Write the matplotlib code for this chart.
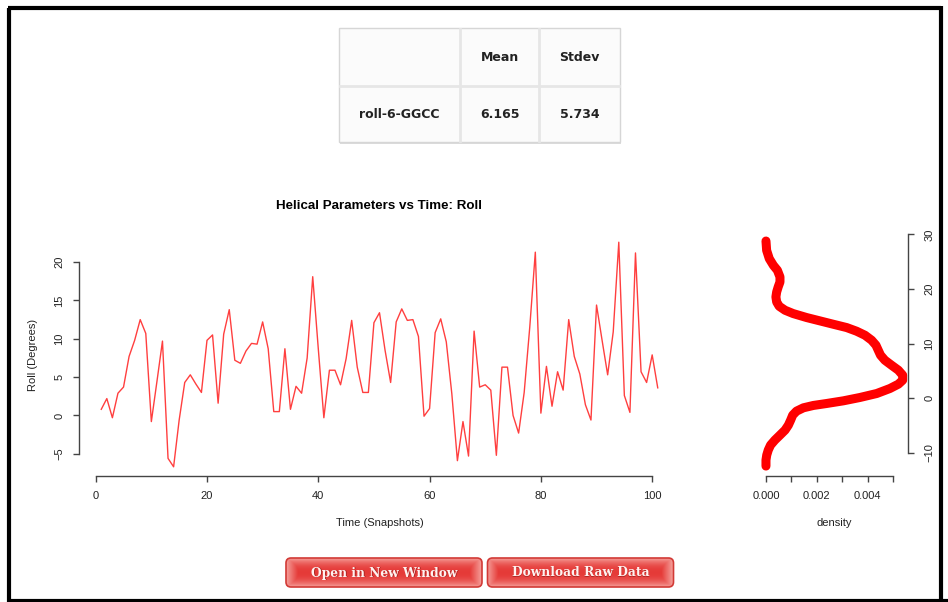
import numpy as np
import matplotlib
matplotlib.use("Agg")
import matplotlib.pyplot as plt
from matplotlib.patches import FancyBboxPatch, Rectangle

# ---------------- data ----------------
snapshots = list(range(1, 102))
roll = [0.8, 2.2, -0.3, 2.9, 3.7, 7.7, 9.8, 12.5, 10.7, -0.8,
        4.4, 9.7, -5.6, -6.7, -0.6, 4.3, 5.3, 4.1, 3.0, 9.8,
        10.5, 1.6, 10.6, 13.8, 7.2, 6.8, 8.4, 9.4, 9.3, 12.2,
        8.7, 0.5, 0.5, 8.7, 0.8, 3.8, 2.9, 7.5, 18.1, 8.7,
        -0.3, 5.9, 5.9, 4.0, 7.4, 12.4, 6.3, 3.0, 3.0, 12.1,
        13.4, 8.5, 4.3, 12.2, 13.9, 12.4, 12.5, 10.3, -0.1, 0.9,
        10.8, 12.6, 9.6, 2.8, -5.9, -0.8, -5.3, 11.0, 3.7, 4.0,
        3.3, -5.2, 6.3, 6.3, 0.0, -2.3, 3.0, 11.5, 21.3, 0.3,
        6.4, 1.2, 5.7, 3.3, 12.5, 7.7, 5.4, 1.4, -0.6, 14.4,
        9.8, 5.3, 10.9, 22.6, 2.6, 0.4, 21.2, 5.7, 4.3, 7.9, 3.6]

dens_roll = [28.78, 27.07, 25.55, 24.33, 23.41, 22.20, 21.28, 20.37, 19.45, 18.54,
             17.62, 16.83, 16.10, 15.49, 14.76, 14.15, 13.54, 12.93, 12.26, 11.52,
             10.61, 9.70, 8.78, 7.87, 6.95, 6.04, 5.12, 4.21, 3.29, 2.56,
             1.77, 0.85, 0.12, -0.49, -0.98, -1.34, -1.77, -2.38, -3.11, -4.02,
             -4.94, -5.85, -6.77, -7.68, -8.60, -9.51, -10.43, -11.34, -12.44]
dens_val = [0.0, 0.000026, 0.00013, 0.00029, 0.00045, 0.00055, 0.00055, 0.00048, 0.00042, 0.00039,
            0.00042, 0.00052, 0.00075, 0.00107, 0.00160, 0.00212, 0.00264, 0.00317, 0.00356, 0.00389,
            0.00415, 0.00432, 0.00441, 0.00450, 0.00467, 0.00493, 0.00520, 0.00537, 0.00537, 0.00520,
            0.00487, 0.00435, 0.00369, 0.00304, 0.00238, 0.00186, 0.00147, 0.00120, 0.00105, 0.00097,
            0.00088, 0.00075, 0.00055, 0.00035, 0.00018, 0.00009, 0.00003, 0.0, 0.0]

table_cols = ["", "Mean", "Stdev"]
table_row = ["roll-6-GGCC", "6.165", "5.734"]

main_xticks = [0, 20, 40, 60, 80, 100]
main_yticks = [-5, 0, 5, 10, 15, 20]
dens_xticks = [0.000, 0.001, 0.002, 0.003, 0.004, 0.005]
dens_xlabels = ["0.000", "", "0.002", "", "0.004", ""]
dens_yticks = [-10, 0, 10, 20, 30]

buttons = ["Open in New Window", "Download Raw Data"]

# ---------------- figure ----------------
W, H = 948, 602
fig = plt.figure(figsize=(W / 100, H / 100), dpi=100)
fig.patch.set_facecolor("white")

bg = fig.add_axes([0, 0, 1, 1], zorder=0)
bg.set_xlim(0, W)
bg.set_ylim(H, 0)
bg.axis("off")

# page frame
bg.plot([9.5, 9.5], [7.5, 602], color="black", lw=3, solid_capstyle="butt")
bg.plot([8, 941], [7.5, 7.5], color="black", lw=3, solid_capstyle="butt")
bg.plot([8, 948], [600.5, 600.5], color="black", lw=3, solid_capstyle="butt")
bg.plot([941.5, 941.5], [6, 602], color="black", lw=3, solid_capstyle="butt")

# ---------------- table ----------------
tx0, tx1, ty0, ty1 = 339, 620, 28, 142
bg.add_patch(Rectangle((tx0 + 1.5, ty0 + 1.5), tx1 - tx0, ty1 - ty0, facecolor="#dcdcdc",
                       edgecolor="none", zorder=1))
bg.add_patch(Rectangle((tx0, ty0), tx1 - tx0, ty1 - ty0, facecolor="#fbfbfb",
                       edgecolor="#d6d6d6", lw=1.0, zorder=2))
col_edges = [tx0, 460.5, 539.5, tx1]
row_edges = [ty0, 86, ty1]
for xe in col_edges[1:-1]:
    bg.plot([xe, xe], [ty0 + 1, ty1 - 1], color="#e6e6e6", lw=2.0, zorder=3)
bg.plot([tx0 + 1, tx1 - 1], [row_edges[1], row_edges[1]], color="#e6e6e6", lw=2.0, zorder=3)
for i in range(3):
    cx = (col_edges[i] + col_edges[i + 1]) / 2
    bg.text(cx, 57.5, table_cols[i], ha="center", va="center", fontsize=9,
            fontweight="bold", family="DejaVu Sans", color="#222222", zorder=4)
    bg.text(cx, 114, table_row[i], ha="center", va="center", fontsize=9,
            fontweight="bold", family="DejaVu Sans", color="#222222", zorder=4)

# ---------------- buttons ----------------
def draw_button(x0, x1, y0, y1, label):
    patch = FancyBboxPatch((x0, y0), x1 - x0, y1 - y0,
                           boxstyle="round,pad=0,rounding_size=5",
                           facecolor="none", edgecolor="#d23a36", lw=1.2, zorder=6)
    bg.add_patch(patch)
    nx, ny = 200, 40
    gx = np.linspace(-1, 1, nx)
    gy = np.linspace(-1, 1, ny)
    GX, GY = np.meshgrid(gx, gy)
    ex = np.clip((np.abs(GX) - 0.88) / 0.12, 0, 1)
    ey = np.abs(GY) ** 2.2
    t = np.clip(np.maximum(ex, ey), 0, 1)
    c_in = np.array([0.90, 0.23, 0.22])
    c_out = np.array([0.96, 0.62, 0.60])
    img = c_in[None, None, :] * (1 - t[..., None]) + c_out[None, None, :] * t[..., None]
    im = bg.imshow(img, extent=(x0, x1, y1, y0), aspect="auto", zorder=5,
                   interpolation="bilinear")
    im.set_clip_path(patch)
    cx, cy = (x0 + x1) / 2, (y0 + y1) / 2 + 0.5
    bg.text(cx + 0.8, cy + 0.8, label, ha="center", va="center", fontsize=8.8,
            fontweight="bold", family="DejaVu Serif", color="#8a1a18", alpha=0.6, zorder=7)
    bg.text(cx, cy, label, ha="center", va="center", fontsize=8.8,
            fontweight="bold", family="DejaVu Serif", color="#fff2f0", zorder=8)

draw_button(286, 482, 558, 587, buttons[0])
draw_button(487.5, 673.5, 558, 587, buttons[1])

# ---------------- main time-series axes ----------------
axis_col = "#444444"
font = "Liberation Sans"
tick_fs = 8
lab_fs = 8

def fig_rect(px0, px1, py_top, py_bot):
    return [px0 / W, 1 - py_bot / H, (px1 - px0) / W, (py_bot - py_top) / H]

ax = fig.add_axes(fig_rect(79, 680, 233, 476), zorder=2)
ax.patch.set_alpha(0)
ax.plot(snapshots, roll, color="#ff2a2a", lw=1.0, alpha=0.9)
ax.set_xlim(-3, 105)
ax.set_ylim(-7.9, 23.8)
for s in ["top", "right"]:
    ax.spines[s].set_visible(False)
ax.spines["left"].set_bounds(-5, 20)
ax.spines["bottom"].set_bounds(0, 100)
for s in ["left", "bottom"]:
    ax.spines[s].set_color(axis_col)
    ax.spines[s].set_linewidth(1.0)
ax.set_xticks(main_xticks)
ax.set_yticks(main_yticks)
ax.tick_params(direction="out", length=4.5, width=1.0, color=axis_col,
               labelsize=tick_fs, labelcolor="#222222")
ax.tick_params(axis="x", pad=6)
ax.tick_params(axis="y", pad=6)
for lab in ax.get_xticklabels():
    lab.set_family(font)
for lab in ax.get_yticklabels():
    lab.set_family(font)
    lab.set_rotation(90)
    lab.set_va("center")
ax.set_title("Helical Parameters vs Time: Roll", fontsize=9.6, fontweight="bold",
             family=font, pad=0, y=1.0)
ax.title.set_position((0.5, (476 - 206) / (476 - 233)))
ax.title.set_va("center")
ax.set_xlabel("Time (Snapshots)", fontsize=lab_fs, family=font, color="#222222")
ax.xaxis.set_label_coords(0.5, -(522.5 - 476) / (476 - 233))
ax.xaxis.label.set_va("center")
ax.set_ylabel("Roll (Degrees)", fontsize=lab_fs, family=font, color="#222222")
ax.yaxis.set_label_coords(-(79 - 33) / (680 - 79), 0.5)
ax.yaxis.label.set_va("center")

# ---------------- density axes ----------------
ad = fig.add_axes(fig_rect(760.5, 908.3, 233, 476), zorder=2)
ad.patch.set_alpha(0)
ad.plot(dens_val, dens_roll, color="#ff0000", lw=6.5, solid_capstyle="round",
        solid_joinstyle="round")
ad.set_xlim(-0.000215, 0.005591)
ad.set_ylim(-14.26, 30.25)
for s in ["top", "left"]:
    ad.spines[s].set_visible(False)
ad.spines["right"].set_bounds(-10, 30)
ad.spines["bottom"].set_bounds(0, 0.005)
for s in ["right", "bottom"]:
    ad.spines[s].set_color(axis_col)
    ad.spines[s].set_linewidth(1.0)
ad.yaxis.tick_right()
ad.set_xticks(dens_xticks)
ad.set_xticklabels(dens_xlabels)
ad.set_yticks(dens_yticks)
ad.tick_params(direction="out", length=4.5, width=1.0, color=axis_col,
               labelsize=tick_fs, labelcolor="#222222")
ad.tick_params(axis="x", pad=6)
ad.tick_params(axis="y", pad=7)
for lab in ad.get_xticklabels():
    lab.set_family(font)
for lab in ad.get_yticklabels():
    lab.set_family(font)
    lab.set_rotation(90)
    lab.set_va("center")
ad.set_xlabel("density", fontsize=lab_fs, family=font, color="#222222")
ad.xaxis.set_label_coords(0.5, -(522.5 - 476) / (476 - 233))
ad.xaxis.label.set_va("center")

fig.savefig("out.png", dpi=100, facecolor="white")
